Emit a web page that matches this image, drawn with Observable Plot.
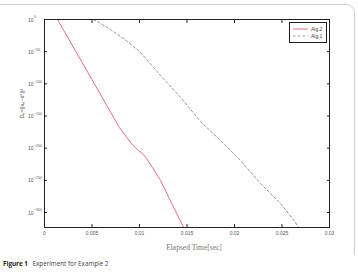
<!DOCTYPE html>
<html>
<head>
<meta charset="utf-8">
<script src="https://cdn.jsdelivr.net/npm/d3@7"></script>
<script src="https://cdn.jsdelivr.net/npm/@observablehq/plot@0.6"></script>
<style>
  html, body { margin: 0; padding: 0; background: #fff; }
  #wrap { position: relative; width: 358px; height: 276px; overflow: hidden; background: #fff; }
  #frame { position: absolute; left: -10px; top: 4px; width: 364px; height: 250px;
           border-top: 1.5px solid #cfcfcf; border-right: 1.5px solid #cfcfcf; border-top-right-radius: 9px; }
  #chart { position: absolute; left: 0; top: 0; }
  #legend { position: absolute; left: 289px; top: 22px; width: 36px; height: 19px; border: 1px solid #222;
            background: #fff; font-family: "Liberation Sans", Arial, sans-serif; font-size: 5px; color: #444; }
  #legend svg { position: absolute; left: 0; top: 0; }
  #caption { position: absolute; left: 3px; top: 259px; font-family: "Open Sans", "Noto Sans", sans-serif;
             font-size: 6.3px; color: #444; white-space: nowrap; }
  #caption b { color: #222; font-weight: 700; margin-right: 3px; }
  #caption .ref { color: #3a4bb0; }
</style>
</head>
<body>
<div id="wrap">
  <div id="frame"></div>
  <div id="chart"></div>
  <div id="legend"></div>
  <div id="caption"><b>Figure 1</b> Experiment for Example <span class="ref">2</span></div>
</div>
<script>
// Data: elapsed time [sec] and log10 of Dn
const alg2Time = [0.00137, 0.00789, 0.00916, 0.0099, 0.01032, 0.01074, 0.01137, 0.01221, 0.01463];
const alg2Exp  = [0, -168, -193, -204, -208.5, -216, -230, -250, -323];
const alg1Time = [0.00516, 0.00589, 0.00726, 0.00874, 0.01011, 0.01221, 0.01432, 0.01642, 0.01853, 0.02063, 0.02274, 0.02484, 0.02642, 0.02674];
const alg1Exp  = [0, -6.2, -18.7, -34.2, -51.3, -87, -121, -158.5, -188, -219, -255, -286, -315.5, -323];
const seriesNames = ["Alg.2", "Alg.1"];
const xTicks = [0, 0.005, 0.01, 0.015, 0.02, 0.025, 0.03];
const xTickLabels = ["0", "0.005", "0.01", "0.015", "0.02", "0.025", "0.03"];
const yTicks = [0, -50, -100, -150, -200, -250, -300];
const xLabel = "Elapsed Time[sec]";
const yLabel = "Dₙ=||xₙ−x*||²";

const alg2 = alg2Time.map((t, i) => ({t, e: alg2Exp[i]}));
const alg1 = alg1Time.map((t, i) => ({t, e: alg1Exp[i]}));

const red = "#dc4a63", gray = "#7a7a7a";

const chart = Plot.plot({
  width: 358, height: 276,
  marginLeft: 44, marginRight: 29, marginTop: 19, marginBottom: 49,
  x: {domain: [0, 0.03]},
  y: {domain: [-323.3, 0]},
  style: {background: "transparent", fontFamily: "'Liberation Sans', Arial, sans-serif", fontSize: "5px", color: "#555"},
  marks: [
    Plot.line(alg1, {x: "t", y: "e", stroke: gray, strokeWidth: 0.8, strokeDasharray: "2.4,2.4", clip: true}),
    Plot.line(alg2, {x: "t", y: "e", stroke: red, strokeWidth: 0.8, clip: true}),
    Plot.axisX({ticks: xTicks, tickFormat: (d, i) => xTickLabels[i], tickSize: -3, tickPadding: 7, label: null, stroke: "#222"}),
    Plot.axisX({anchor: "top", ticks: xTicks, tickFormat: () => "", tickSize: -3, label: null, stroke: "#222"}),
    Plot.axisY({ticks: yTicks, tickFormat: () => "", tickSize: -3, label: null, stroke: "#222"}),
    Plot.axisY({anchor: "right", ticks: yTicks, tickFormat: () => "", tickSize: -3, label: null, stroke: "#222"}),
    // y tick labels: base "10" and superscript exponent
    Plot.text(yTicks, {y: d => d, frameAnchor: "left", dx: -11, dy: 0.5, text: () => "10", textAnchor: "end", fontSize: 5, fill: "#555"}),
    Plot.text(yTicks, {y: d => d, frameAnchor: "left", dx: -10.6, dy: -2.2, text: d => d === 0 ? "0" : "−" + Math.abs(d), textAnchor: "start", fontSize: 3.6, fill: "#555"}),
    Plot.frame({stroke: "#222", strokeWidth: 1}),
    Plot.text([yLabel], {frameAnchor: "left", dx: -22, dy: -5, rotate: -90, text: d => d, fontSize: 5.5, fill: "#555"}),
    Plot.text([xLabel], {frameAnchor: "bottom", dx: 7, dy: 22, text: d => d, fontSize: 7.5, fill: "#777",
                         fontFamily: "'Liberation Serif', 'DejaVu Serif', serif"})
  ]
});
document.getElementById("chart").appendChild(chart);

// legend
const lg = document.getElementById("legend");
const ns = "http://www.w3.org/2000/svg";
const svg = document.createElementNS(ns, "svg");
svg.setAttribute("width", 36); svg.setAttribute("height", 19);
[[red, null], [gray, "2.4,2.4"]].forEach(([c, dash], i) => {
  const y = 6 + i * 7;
  const l = document.createElementNS(ns, "line");
  l.setAttribute("x1", 3); l.setAttribute("x2", 18); l.setAttribute("y1", y); l.setAttribute("y2", y);
  l.setAttribute("stroke", c); l.setAttribute("stroke-width", 0.8);
  if (dash) l.setAttribute("stroke-dasharray", dash);
  svg.appendChild(l);
  const t = document.createElementNS(ns, "text");
  t.setAttribute("x", 21); t.setAttribute("y", y + 1.8); t.setAttribute("font-size", 5); t.setAttribute("fill", "#444");
  t.textContent = seriesNames[i];
  svg.appendChild(t);
});
lg.appendChild(svg);
</script>
</body>
</html>
